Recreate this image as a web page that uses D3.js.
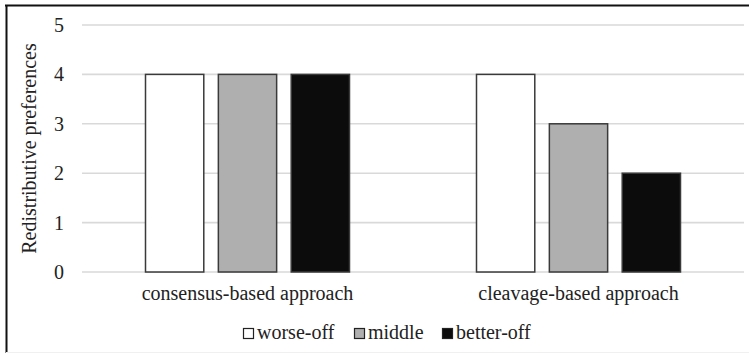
<!DOCTYPE html>
<html>
<head>
<meta charset="utf-8">
<script src="https://cdn.jsdelivr.net/npm/d3@7/dist/d3.min.js"></script>
</head>
<body style="margin:0">
<svg id="chart" width="749" height="357"></svg>
<script>
// Chart data
const categories = ["consensus-based approach", "cleavage-based approach"];
const seriesNames = ["worse-off", "middle", "better-off"];
const worseOff = [4, 4];
const middle = [4, 3];
const betterOff = [4, 2];
const yTicks = [0, 1, 2, 3, 4, 5];
const yTitle = "Redistributive preferences";

const seriesValues = [worseOff, middle, betterOff];
const seriesFill = ["#ffffff", "#afafaf", "#0c0c0c"];
const FONT = "Liberation Serif";
const INK = "#222";

// Apply the serif face directly on each text node
function serif(sel) {
  return sel.style("font-family", FONT).style("font-size", "20px").style("fill", INK);
}

const svg = d3.select("#chart");
const W = 749, H = 357;

// Frame
svg.append("rect").attr("x", 0).attr("y", 0).attr("width", W).attr("height", H).attr("fill", "#fff");
svg.append("line").attr("x1", 5).attr("x2", W).attr("y1", 5.5).attr("y2", 5.5)
  .attr("stroke", "#111").attr("stroke-width", 2);
svg.append("line").attr("x1", 6.5).attr("x2", 6.5).attr("y1", 5).attr("y2", 353)
  .attr("stroke", "#111").attr("stroke-width", 2);
svg.append("line").attr("x1", 6).attr("x2", W).attr("y1", 352.5).attr("y2", 352.5)
  .attr("stroke", "#f0f0f0").attr("stroke-width", 1);

const plot = { left: 82, right: 744, top: 25, bottom: 272 };

const x = d3.scaleBand().domain(categories).range([plot.left, plot.right]).paddingInner(0).paddingOuter(0);
const groupW = 204;
const xs = d3.scaleBand().domain(seriesNames)
  .range([(x.bandwidth() - groupW) / 2, (x.bandwidth() + groupW) / 2])
  .paddingInner(0.2).paddingOuter(0);
const y = d3.scaleLinear().domain([0, 5]).range([plot.bottom, plot.top]);

// Gridlines
svg.append("g").selectAll("line").data(yTicks).join("line")
  .attr("x1", plot.left).attr("x2", plot.right)
  .attr("y1", d => y(d)).attr("y2", d => y(d))
  .attr("stroke", "#d9d9d9").attr("stroke-width", 1.6);

// Y axis labels
const yAxis = d3.axisLeft(y).tickValues(yTicks).tickSize(0).tickPadding(0).tickFormat(d3.format("d"));
const yg = svg.append("g").attr("transform", `translate(64,0)`).call(yAxis);
yg.select(".domain").remove();
serif(yg.selectAll("text"));

// Y axis title
serif(svg.append("text")
  .attr("transform", `translate(36,${(plot.top + plot.bottom) / 2}) rotate(-90)`)
  .attr("text-anchor", "middle")
  .text(yTitle));

// Bars
const groups = svg.append("g").selectAll("g").data(categories).join("g")
  .attr("transform", d => `translate(${x(d)},0)`);
groups.selectAll("rect")
  .data((c, ci) => seriesNames.map((s, si) => ({ s, si, v: seriesValues[si][ci] })))
  .join("rect")
  .attr("x", d => xs(d.s))
  .attr("width", xs.bandwidth())
  .attr("y", d => y(d.v))
  .attr("height", d => y(0) - y(d.v))
  .attr("fill", d => seriesFill[d.si])
  .attr("stroke", "#3a3a3a")
  .attr("stroke-width", 1.5);

// X axis category labels
const xAxis = d3.axisBottom(x).tickSize(0).tickPadding(0);
const xg = svg.append("g").attr("transform", `translate(0,300)`).call(xAxis);
xg.select(".domain").remove();
serif(xg.selectAll("text").attr("dy", 0));

// Legend
const legendItems = [
  { name: seriesNames[0], fill: seriesFill[0], x: 243 },
  { name: seriesNames[1], fill: seriesFill[1], x: 354 },
  { name: seriesNames[2], fill: seriesFill[2], x: 442 }
];
const lg = svg.append("g").selectAll("g").data(legendItems).join("g")
  .attr("transform", d => `translate(${d.x},339)`);
lg.append("rect").attr("x", 0.5).attr("y", -10.5).attr("width", 10).attr("height", 10)
  .attr("fill", d => d.fill).attr("stroke", "#222").attr("stroke-width", 1.2);
serif(lg.append("text").attr("x", 14).attr("y", 0).text(d => d.name));
</script>
</body>
</html>
